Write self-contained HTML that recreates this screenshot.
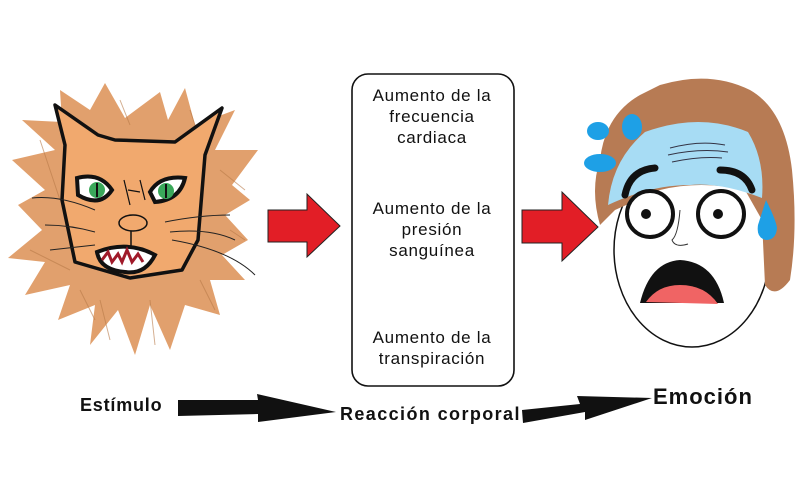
<!DOCTYPE html>
<html><head><meta charset="utf-8"><style>
html,body{margin:0;padding:0;background:#fff;width:800px;height:500px;overflow:hidden}
svg{display:block}
.t{font-family:"Liberation Sans",sans-serif;font-size:17px;fill:#111;text-anchor:middle;letter-spacing:0.7px}
.b{font-family:"Liberation Sans",sans-serif;font-weight:bold;fill:#111}
</style></head><body>
<svg width="800" height="500" viewBox="0 0 800 500">
<!-- Lion mane -->
<polygon fill="#e1a06d" points="105,83 125,118 160,92 168,120 185,88 195,125 235,110 215,150 258,150 232,185 250,200 225,215 248,240 222,255 245,280 210,280 220,315 185,305 170,350 150,305 135,355 118,310 90,345 95,305 58,320 70,285 25,295 45,262 8,258 42,230 18,205 45,190 12,160 55,150 22,120 62,122 60,90 90,110"/>
<g stroke="#b87a48" stroke-width="1" opacity="0.6">
<path d="M40,140 L60,200 M30,250 L70,270 M100,300 L110,340 M150,300 L155,345 M200,280 L215,310 M220,170 L245,190 M190,110 L200,140 M120,100 L130,125 M80,290 L95,320 M230,230 L245,240"/>
</g>
<!-- Face -->
<path d="M55,105 L98,135 L115,140 L175,142 L222,108 L205,155 L198,240 L182,270 L130,278 L75,262 L62,200 L65,145 Z" fill="#f1a96e" stroke="#111" stroke-width="3.5" stroke-linejoin="round"/>
<path d="M77,178 Q100,172 112,190 Q100,208 78,195 Z" fill="#fff" stroke="#111" stroke-width="4"/>
<circle cx="97" cy="190" r="8" fill="#3aa85a"/><line x1="97" y1="183" x2="97" y2="197" stroke="#111" stroke-width="2"/>
<path d="M150,192 Q160,175 185,178 Q180,200 155,202 Z" fill="#fff" stroke="#111" stroke-width="4"/>
<circle cx="166" cy="191" r="8" fill="#3aa85a"/><line x1="166" y1="184" x2="166" y2="198" stroke="#111" stroke-width="2"/>
<ellipse cx="133" cy="223" rx="14" ry="8" fill="#f1a96e" stroke="#111" stroke-width="1.5"/>
<line x1="131" y1="231" x2="131" y2="248" stroke="#111" stroke-width="1.5"/>
<path d="M124,180 L130,205 M140,180 L145,200 M128,190 L140,192" stroke="#111" stroke-width="1.2" fill="none"/>
<path d="M97,252 Q128,240 155,255 Q145,275 125,272 Q100,270 97,252 Z" fill="#fff" stroke="#111" stroke-width="4"/>
<path d="M102,260 L108,252 L112,262 L118,254 L122,262 L127,250 L132,262 L138,254 L143,262" stroke="#a01a2a" stroke-width="3" fill="none"/>
<g stroke="#222" stroke-width="1" fill="none">
<path d="M32,198 Q60,195 95,210"/><path d="M45,225 Q70,225 95,232"/><path d="M50,250 L95,245"/>
<path d="M165,222 Q200,215 230,215"/><path d="M170,232 Q210,228 235,240"/><path d="M172,240 Q230,250 255,275"/>
</g>
<!-- red arrows -->
<polygon points="268,210 307,210 307,194 340,226 307,257 307,242 268,242" fill="#e21e26" stroke="#222" stroke-width="1"/>
<polygon points="522,210 562,210 562,192 598,227 562,261 562,243 522,243" fill="#e21e26" stroke="#222" stroke-width="1"/>
<!-- box -->
<rect x="352" y="74" width="162" height="312" rx="16" fill="#fff" stroke="#111" stroke-width="1.6"/>
<text class="t" x="432" y="101">Aumento de la</text>
<text class="t" x="432" y="122">frecuencia</text>
<text class="t" x="432" y="143">cardiaca</text>
<text class="t" x="432" y="214">Aumento de la</text>
<text class="t" x="432" y="235">presión</text>
<text class="t" x="432" y="256">sanguínea</text>
<text class="t" x="432" y="343">Aumento de la</text>
<text class="t" x="432" y="364">transpiración</text>
<!-- person -->
<ellipse cx="692" cy="250" rx="78" ry="97" fill="#fff" stroke="#111" stroke-width="1.5"/>
<path d="M600,225 Q590,190 600,160 Q605,115 640,95 L660,85 Q710,70 750,90 Q785,110 792,170 Q798,230 790,280 Q775,300 765,285 L762,220 L745,190 Q700,180 660,190 L615,210 Z" fill="#b77b54"/>
<path d="M608,205 Q612,160 645,132 Q700,112 748,132 Q765,160 762,198 Q720,182 690,185 Q650,185 608,205 Z" fill="#a7dcf4"/>
<path d="M670,148 Q700,140 725,145 M668,155 Q700,148 728,152 M672,162 Q700,156 722,158" stroke="#334" stroke-width="1" fill="none"/>
<ellipse cx="598" cy="131" rx="11" ry="9" fill="#1ea0e6"/>
<ellipse cx="632" cy="127" rx="10" ry="13" fill="#1ea0e6"/>
<ellipse cx="600" cy="163" rx="16" ry="9" fill="#1ea0e6"/>
<path d="M766,200 Q776,220 777,228 Q776,240 766,240 Q756,238 758,225 Z" fill="#1ea0e6"/>
<path d="M625,195 Q630,170 655,168" stroke="#111" stroke-width="7" fill="none" stroke-linecap="round"/>
<path d="M720,170 Q745,170 752,190" stroke="#111" stroke-width="7" fill="none" stroke-linecap="round"/>
<circle cx="650" cy="214" r="23" fill="#fff" stroke="#111" stroke-width="4"/>
<circle cx="646" cy="214" r="5" fill="#111"/>
<circle cx="721" cy="214" r="23" fill="#fff" stroke="#111" stroke-width="4"/>
<circle cx="718" cy="214" r="5" fill="#111"/>
<path d="M680,210 Q678,235 672,240 Q675,248 688,244" stroke="#333" stroke-width="1" fill="none"/>
<path d="M640,303 Q650,262 680,260 Q715,262 724,303 Z" fill="#111"/>
<path d="M646,302 Q658,285 680,285 Q705,285 718,304 Z" fill="#f06464"/>
<!-- bottom arrows -->
<text class="b" x="80" y="411" font-size="18" letter-spacing="0.8">Estímulo</text>
<polygon points="178,400 258,400 257,394 336,412 258,422 258,414 178,416" fill="#111"/>
<text class="b" x="340" y="420" font-size="18" letter-spacing="1.4">Reacción corporal</text>
<polygon points="522,410 580,404 577,396 652,398 585,420 585,412 523,423" fill="#111"/>
<text class="b" x="653" y="404" font-size="22" letter-spacing="1">Emoción</text>
</svg>
</body></html>
